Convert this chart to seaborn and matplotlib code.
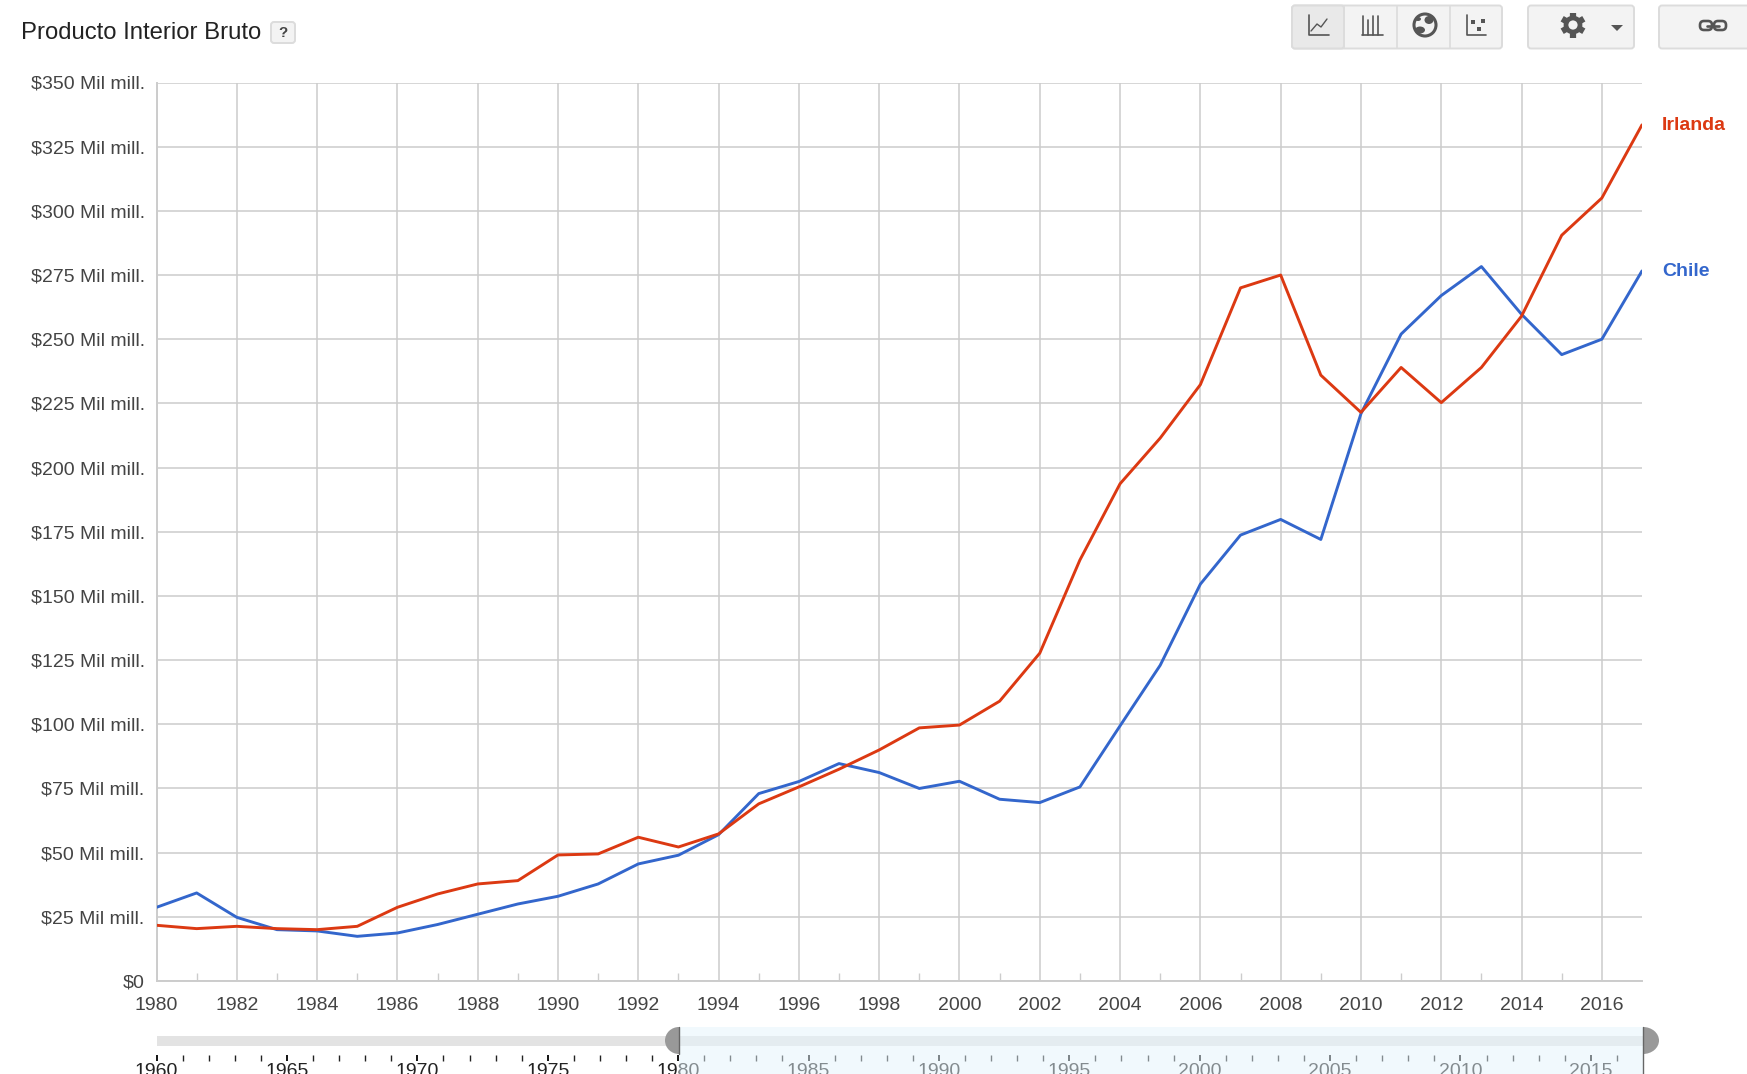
import matplotlib
matplotlib.use('Agg')
import matplotlib.pyplot as plt
import seaborn as sns
import pandas as pd
import numpy as np
from matplotlib.patches import FancyBboxPatch, Rectangle, Circle, Polygon, Ellipse

W, H = 1747, 1074

# Values, in thousand millions of dollars
years = list(range(1980, 2018))
irlanda = [21.7, 20.4, 21.3, 20.4, 20.0, 21.3, 28.7, 33.9, 37.8, 39.1,
           49.1, 49.5, 56.0, 52.2, 57.3, 69.0, 75.6, 82.5, 90.0, 98.6,
           99.7, 109.0, 127.7, 164.0, 193.7, 211.5, 232.3, 270.0, 275.0, 236.0,
           221.5, 239.0, 225.3, 239.0, 259.0, 290.5, 305.0, 333.5]
chile = [28.7, 34.3, 24.8, 20.0, 19.5, 17.4, 18.7, 22.0, 26.0, 30.0,
         33.0, 37.8, 45.6, 49.0, 57.0, 73.0, 77.7, 84.7, 81.2, 75.0,
         77.8, 70.8, 69.5, 75.6, 99.4, 123.0, 154.6, 173.7, 179.8, 172.0,
         221.0, 252.0, 267.0, 278.3, 259.7, 244.0, 250.0, 276.6]
y_ticks = list(range(0, 351, 25))
x_ticks = list(range(1980, 2017, 2))
range_ticks = list(range(1960, 2016, 5))
title = 'Producto Interior Bruto'

RED = '#dc3912'
BLUE = '#3366cc'
GRID = '#cccccc'
TEXT = '#444444'
ICON = '#555555'

sns.set_theme(style='white')
plt.rcParams['font.family'] = ['Liberation Sans', 'DejaVu Sans']


def px_axes(fig, left, top, right, bottom):
    # axes placed by picture pixels
    return fig.add_axes([left / W, 1 - bottom / H, (right - left) / W, (bottom - top) / H])


def button(ax, x0, y0, x1, y1, face='#f3f3f3'):
    ax.add_patch(FancyBboxPatch((x0 + 2, y0 + 2), x1 - x0 - 4, y1 - y0 - 4,
                                boxstyle='round,pad=2,rounding_size=3',
                                fc=face, ec='#dcdcdc', lw=1.4))


fig = plt.figure(figsize=(W / 100, H / 100), dpi=100, facecolor='white')

# main chart
ax = px_axes(fig, 156.5, 82.5, 1642, 981)
df = pd.DataFrame({'year': years, 'Irlanda': irlanda, 'Chile': chile})
long_df = df.melt(id_vars='year', var_name='country', value_name='gdp')
sns.lineplot(data=long_df, x='year', y='gdp', hue='country', ax=ax, linewidth=2.1,
             palette={'Irlanda': RED, 'Chile': BLUE}, hue_order=['Chile', 'Irlanda'],
             estimator=None, errorbar=None, legend=False, zorder=3)
ax.set_xlim(1980, 2017)
ax.set_ylim(0, 350)
ax.set_xlabel('')
ax.set_ylabel('')
ax.set_yticks(y_ticks)
ax.set_yticklabels(['$0'] + [f'${v} Mil mill.' for v in y_ticks[1:]])
ax.set_xticks(x_ticks)
ax.set_xticks([y for y in years if y % 2 == 1 and y < 2017], minor=True)
ax.grid(True, which='major', color=GRID, linewidth=1.1)
ax.tick_params(axis='x', which='major', length=0, pad=11.5, labelsize=14, labelcolor=TEXT)
ax.tick_params(axis='x', which='minor', direction='in', length=5.5, width=1, color=GRID, bottom=True)
ax.tick_params(axis='y', length=0, pad=8.5, labelsize=14, labelcolor=TEXT)
ax.patch.set_alpha(0)
for side in ['top', 'right']:
    ax.spines[side].set_visible(False)
for side in ['left', 'bottom']:
    ax.spines[side].set_color(GRID)
    ax.spines[side].set_linewidth(1.4)

# range selector
ax2 = px_axes(fig, 156.6, 1027, 1643, 1055)
ax2.set_xlim(1960, 2017)
ax2.set_ylim(0, 1)
ax2.axhspan(0.32, 0.68, xmin=0, xmax=1, color='#e3e3e3', lw=0)
ax2.set_yticks([])
ax2.set_xticks(range_ticks)
ax2.set_xticks([y for y in range(1960, 2017) if y % 5 != 0], minor=True)
ax2.tick_params(axis='x', which='major', length=4, width=1.3, color='black', pad=2,
                labelsize=14, labelcolor='#222222', bottom=True)
ax2.tick_params(axis='x', which='minor', length=4, width=1, color='#222222', bottom=True)
ax2.patch.set_alpha(0)
for s in ax2.spines.values():
    s.set_visible(False)

# page furniture in pixel coordinates
ov = fig.add_axes([0, 0, 1, 1], zorder=5)
ov.set_xlim(0, W)
ov.set_ylim(H, 0)
ov.axis('off')
ov.patch.set_alpha(0)

ov.text(21, 33, title, fontsize=17.2, color='#222222', va='center', ha='left')
button(ov, 271, 22, 295, 43)
ov.text(283, 33, '?', fontsize=11, fontweight='bold', color='#444444', ha='center', va='center')

ov.text(1662, 126, 'Irlanda', color=RED, fontsize=14, fontweight='bold', va='center')
ov.text(1662, 271, 'Chile', color=BLUE, fontsize=14, fontweight='bold', va='center')

# toolbar
button(ov, 1292, 5.5, 1502, 48.5)
button(ov, 1292, 5.5, 1344, 48.5, face='#e9e9e9')
for sx in [1344, 1397, 1450]:
    ov.plot([sx, sx], [6, 48], color='#dcdcdc', lw=1.2)
button(ov, 1528, 5.5, 1634, 48.5)
button(ov, 1659, 5.5, 1760, 48.5)

# line icon
ov.plot([1309, 1309, 1329], [15, 35, 35], color=ICON, lw=1.2)
ov.plot([1311, 1317, 1321, 1327], [31, 24, 27, 19], color=ICON, lw=1)
# bar icon
for bx in [1363, 1368, 1373, 1378]:
    ov.plot([bx, bx], [35, 16 if bx != 1368 else 20], color=ICON, lw=1.2)
ov.plot([1362, 1383], [35, 35], color=ICON, lw=1.2)
# globe icon
ov.add_patch(Circle((1425, 25), 11, fc='#f3f3f3', ec=ICON, lw=2.2, zorder=3))
ov.add_patch(Ellipse((1429, 20), 9, 8, fc=ICON, ec='none', zorder=3))
ov.add_patch(Ellipse((1420, 30), 10, 7, fc=ICON, ec='none', zorder=3))
ov.add_patch(Ellipse((1418, 19), 6, 4, fc=ICON, ec='none', zorder=3))
# scatter icon
ov.plot([1467, 1467, 1486], [15, 35, 35], color=ICON, lw=1.2)
for dx, dy in [(1473, 22), (1483, 21), (1479, 29)]:
    ov.add_patch(Rectangle((dx - 2, dy - 2), 4, 4, fc=ICON, ec='none', zorder=3))
# gear icon
for a in [90, 30, 150]:
    dx, dy = 12.5 * np.cos(np.radians(a)), 12.5 * np.sin(np.radians(a))
    ov.plot([1573 - dx, 1573 + dx], [25 - dy, 25 + dy], color=ICON, lw=4.5, solid_capstyle='butt', zorder=3)
ov.add_patch(Circle((1573, 25), 7, fc='#f3f3f3', ec=ICON, lw=3.4, zorder=4))
ov.add_patch(Polygon([[1611, 25], [1623, 25], [1617, 31]], fc=ICON, ec='none'))
# link icon
ov.add_patch(FancyBboxPatch((1701, 22), 10, 7, boxstyle='round,pad=1,rounding_size=4', fc='none', ec=ICON, lw=1.9))
ov.add_patch(FancyBboxPatch((1715, 22), 10, 7, boxstyle='round,pad=1,rounding_size=4', fc='none', ec=ICON, lw=1.9))
ov.plot([1707, 1719], [25.5, 25.5], color=ICON, lw=1.9)

# selected window of the range selector
ov.add_patch(Rectangle((679, 1027), 964, 47, fc='#e5f5fd', ec='none', alpha=0.5))
left_handle = Ellipse((679, 1040.5), 28, 27, fc='#999999', ec='none')
right_handle = Ellipse((1643, 1040.5), 32, 27, fc='#999999', ec='none')
ov.add_patch(left_handle)
ov.add_patch(right_handle)
left_handle.set_clip_path(Rectangle((660, 1020), 19, 40, transform=ov.transData))
right_handle.set_clip_path(Rectangle((1643, 1020), 20, 40, transform=ov.transData))
ov.plot([679, 679], [1027, 1054], color='#666666', lw=1)
ov.plot([1643, 1643], [1027, 1074], color='#666666', lw=1)

fig.savefig('out.png', dpi=100)
